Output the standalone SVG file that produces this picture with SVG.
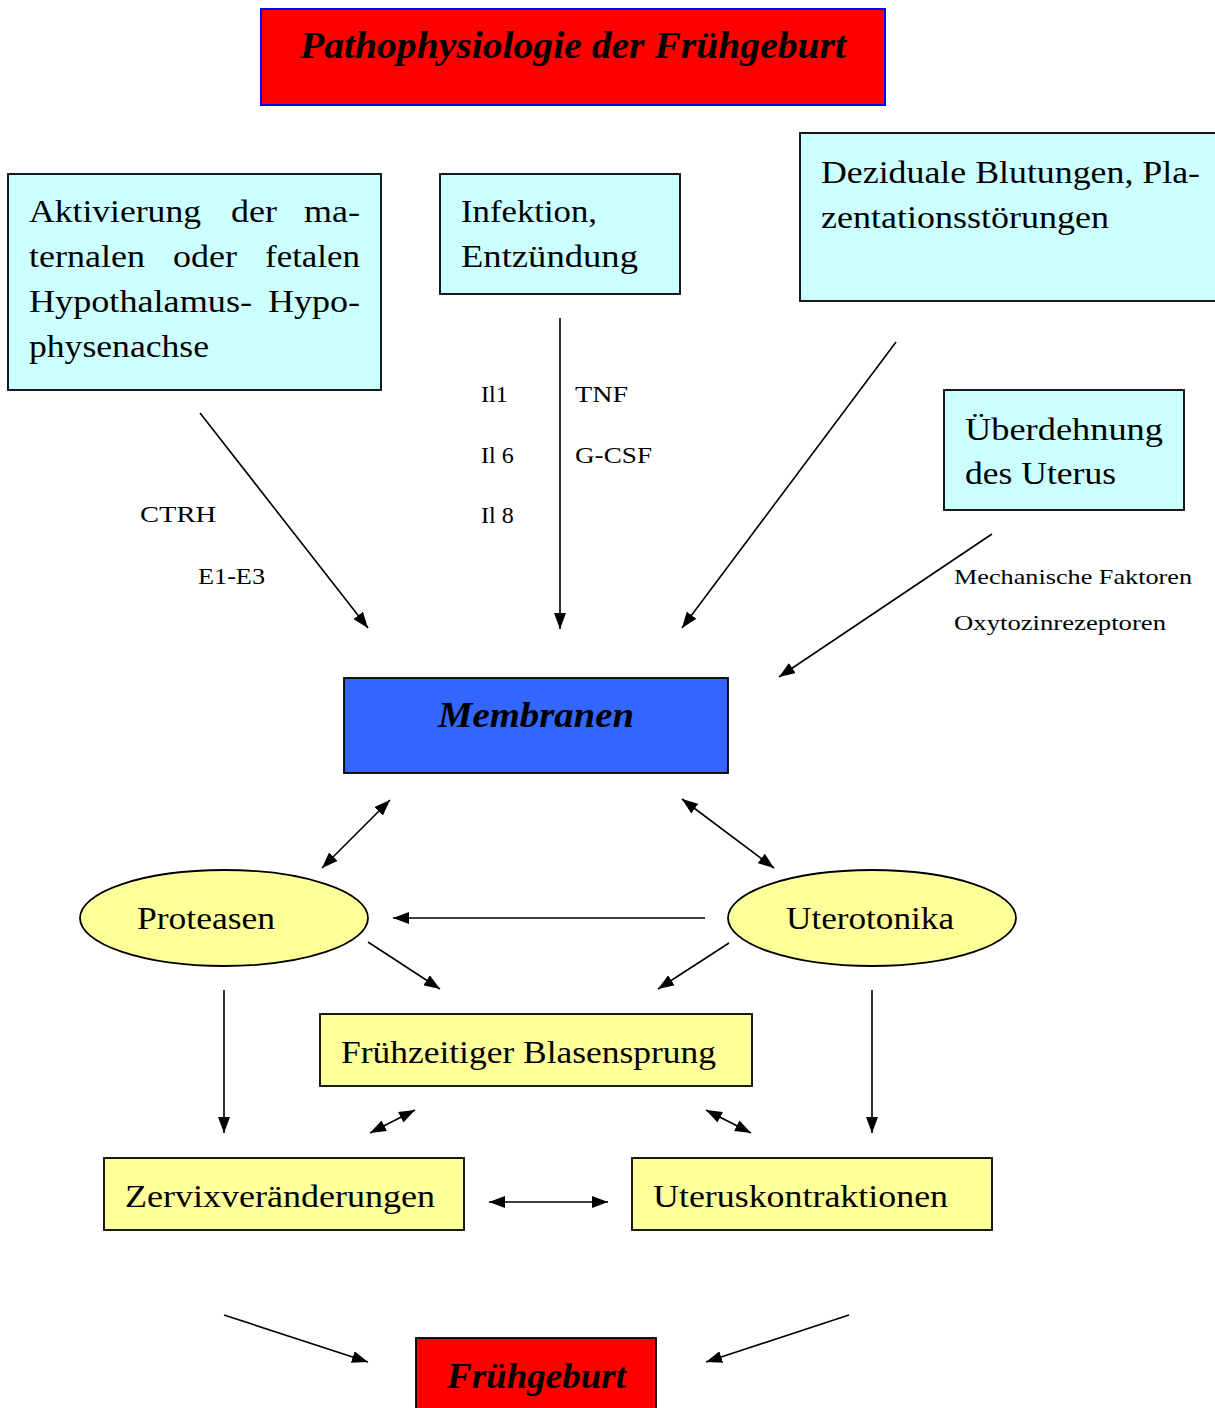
<svg xmlns="http://www.w3.org/2000/svg" width="1215" height="1408" viewBox="0 0 1215 1408">
<defs>
<marker id="ah" viewBox="0 0 16 12" refX="16" refY="6" markerWidth="16" markerHeight="12" markerUnits="userSpaceOnUse" orient="auto-start-reverse">
<path d="M0,0 L16,6 L0,12 z" fill="#000"/>
</marker>
</defs>
<style>
text{font-family:"Liberation Serif","Times New Roman",serif;fill:#000}
.t{font-size:32px}
.s{font-size:24px}
.m{font-size:22px}
.e{text-anchor:end}
.bi{font-weight:bold;font-style:italic}
.cyan{fill:#CCFFFF;stroke:#000;stroke-width:1.8}
.yel{fill:#FFFF99;stroke:#000;stroke-width:1.8}
.ln{stroke:#000;stroke-width:1.6;fill:none}
.a{marker-end:url(#ah)}
.d{marker-start:url(#ah);marker-end:url(#ah)}
</style>
<rect width="1215" height="1408" fill="#fff"/>

<g id="title">
<rect x="261" y="9" width="624" height="96" fill="#FF0000" stroke="#0000FF" stroke-width="2"/>
<text x="300" y="58" class="bi" font-size="37" textLength="546" lengthAdjust="spacingAndGlyphs">Pathophysiologie der Frühgeburt</text>
</g>

<g id="hpa">
<rect x="8" y="174" width="373" height="216" class="cyan"/>
<text class="t" x="29" y="222" textLength="172" lengthAdjust="spacingAndGlyphs">Aktivierung</text>
<text class="t" x="231" y="222" textLength="46" lengthAdjust="spacingAndGlyphs">der</text>
<text class="t" x="304" y="222" textLength="56" lengthAdjust="spacingAndGlyphs">ma-</text>
<text class="t" x="29" y="267" textLength="116" lengthAdjust="spacingAndGlyphs">ternalen</text>
<text class="t" x="173" y="267" textLength="64" lengthAdjust="spacingAndGlyphs">oder</text>
<text class="t" x="265" y="267" textLength="95" lengthAdjust="spacingAndGlyphs">fetalen</text>
<text class="t" x="29" y="312" textLength="223" lengthAdjust="spacingAndGlyphs">Hypothalamus-</text>
<text class="t" x="268" y="312" textLength="92" lengthAdjust="spacingAndGlyphs">Hypo-</text>
<text class="t" x="29" y="357" textLength="180" lengthAdjust="spacingAndGlyphs">physenachse</text>
</g>

<g id="infektion">
<rect x="440" y="174" width="240" height="120" class="cyan"/>
<text class="t" x="461" y="222" textLength="136" lengthAdjust="spacingAndGlyphs">Infektion,</text>
<text class="t" x="461" y="267" textLength="177" lengthAdjust="spacingAndGlyphs">Entzündung</text>
</g>

<g id="dezidual">
<rect x="800" y="133" width="420" height="168" class="cyan"/>
<text class="t" x="821" y="183" textLength="379" lengthAdjust="spacingAndGlyphs">Deziduale Blutungen, Pla-</text>
<text class="t" x="821" y="228" textLength="288" lengthAdjust="spacingAndGlyphs">zentationsstörungen</text>
</g>

<g id="ueberdehnung">
<rect x="944" y="390" width="240" height="120" class="cyan"/>
<text class="t" x="965" y="440" textLength="198" lengthAdjust="spacingAndGlyphs">Überdehnung</text>
<text class="t" x="965" y="484" textLength="151" lengthAdjust="spacingAndGlyphs">des Uterus</text>
</g>

<g id="labels">
<text class="s" x="140" y="522" textLength="76" lengthAdjust="spacingAndGlyphs">CTRH</text>
<text class="s" x="198" y="584" textLength="67" lengthAdjust="spacingAndGlyphs">E1-E3</text>
<text class="s" x="481" y="402">Il1</text>
<text class="s" x="481" y="463">Il 6</text>
<text class="s" x="481" y="523">Il 8</text>
<text class="s" x="575" y="402" textLength="53" lengthAdjust="spacingAndGlyphs">TNF</text>
<text class="s" x="575" y="463" textLength="77" lengthAdjust="spacingAndGlyphs">G-CSF</text>
<text class="m" x="954" y="584" textLength="238" lengthAdjust="spacingAndGlyphs">Mechanische Faktoren</text>
<text class="m" x="954" y="630" textLength="212" lengthAdjust="spacingAndGlyphs">Oxytozinrezeptoren</text>
</g>

<g id="membranen">
<rect x="344" y="678" width="384" height="95" fill="#3366FF" stroke="#000" stroke-width="1.8"/>
<text x="438" y="727" class="bi" font-size="36" textLength="196" lengthAdjust="spacingAndGlyphs">Membranen</text>
</g>

<g id="proteasen">
<ellipse cx="224" cy="918" rx="144" ry="48" class="yel"/>
<text class="t" x="137" y="929" textLength="138" lengthAdjust="spacingAndGlyphs">Proteasen</text>
</g>

<g id="uterotonika">
<ellipse cx="872" cy="918" rx="144" ry="48" class="yel"/>
<text class="t" x="786" y="929" textLength="168" lengthAdjust="spacingAndGlyphs">Uterotonika</text>
</g>

<g id="blasensprung">
<rect x="320" y="1014" width="432" height="72" class="yel"/>
<text class="t" x="341" y="1063" textLength="375" lengthAdjust="spacingAndGlyphs">Frühzeitiger Blasensprung</text>
</g>

<g id="zervix">
<rect x="104" y="1158" width="360" height="72" class="yel"/>
<text class="t" x="125" y="1207" textLength="310" lengthAdjust="spacingAndGlyphs">Zervixveränderungen</text>
</g>

<g id="uteruskontraktionen">
<rect x="632" y="1158" width="360" height="72" class="yel"/>
<text class="t" x="653" y="1207" textLength="295" lengthAdjust="spacingAndGlyphs">Uteruskontraktionen</text>
</g>

<g id="fruehgeburt">
<rect x="416" y="1338" width="240" height="80" fill="#FF0000" stroke="#000" stroke-width="1.8"/>
<text x="447" y="1388" class="bi" font-size="36" textLength="179" lengthAdjust="spacingAndGlyphs">Frühgeburt</text>
</g>

<g id="connectors">
<line class="ln a" x1="200" y1="413" x2="368" y2="628"/>
<line class="ln a" x1="560" y1="318" x2="560" y2="629"/>
<line class="ln a" x1="896" y1="342" x2="682" y2="628"/>
<line class="ln a" x1="992" y1="534" x2="779" y2="677"/>
<line class="ln d" x1="390" y1="800" x2="322" y2="868"/>
<line class="ln d" x1="682" y1="799" x2="774" y2="868"/>
<line class="ln a" x1="705" y1="918" x2="393" y2="918"/>
<line class="ln a" x1="368" y1="942" x2="440" y2="989"/>
<line class="ln a" x1="729" y1="943" x2="658" y2="989"/>
<line class="ln a" x1="224" y1="990" x2="224" y2="1133"/>
<line class="ln a" x1="872" y1="990" x2="872" y2="1133"/>
<line class="ln d" x1="370" y1="1133" x2="415" y2="1110"/>
<line class="ln d" x1="706" y1="1110" x2="751" y2="1133"/>
<line class="ln d" x1="489" y1="1202" x2="608" y2="1202"/>
<line class="ln a" x1="224" y1="1315" x2="368" y2="1362"/>
<line class="ln a" x1="849" y1="1315" x2="706" y2="1362"/>
</g>
</svg>
